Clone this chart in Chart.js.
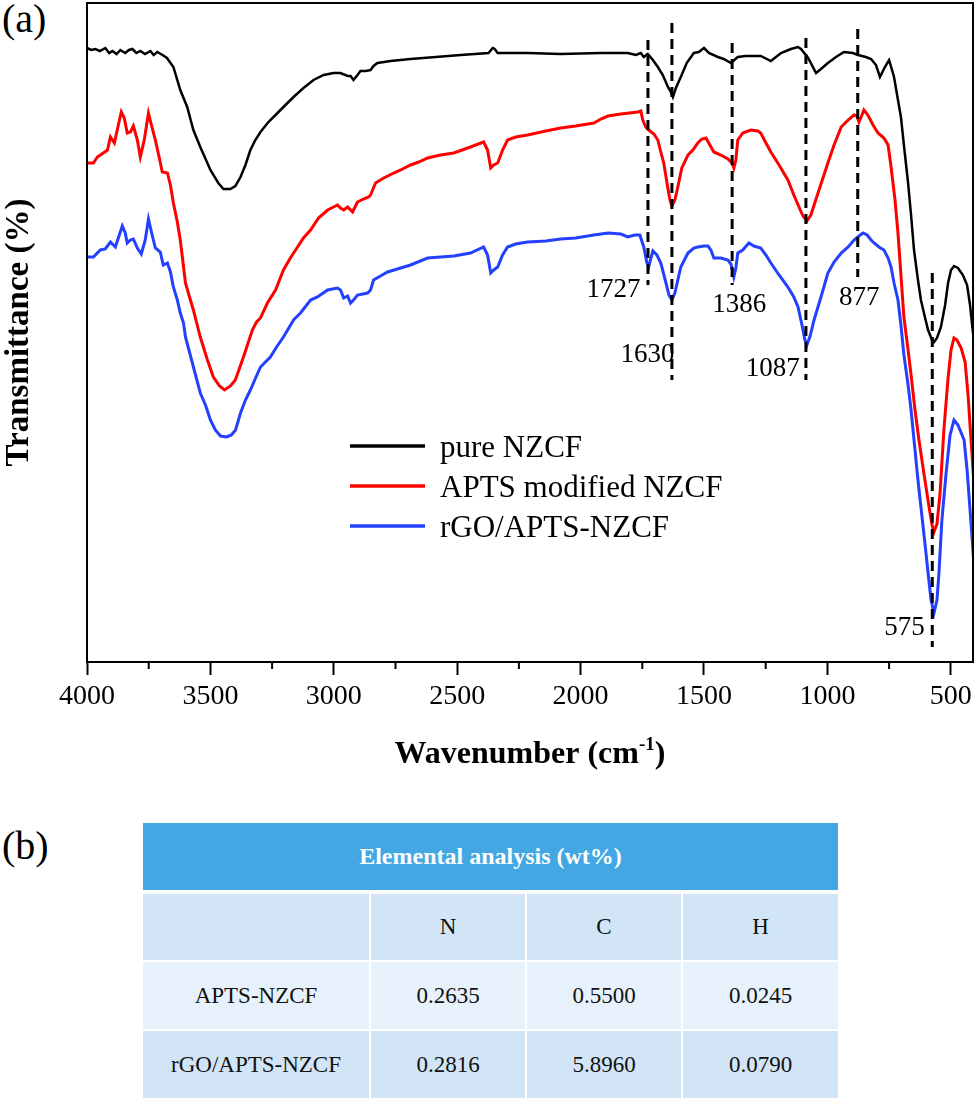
<!DOCTYPE html>
<html lang="en">
<head>
  <meta charset="UTF-8">
  <title>FTIR NZCF</title>
  <style>
    body { margin: 0; background: #fff; width: 980px; height: 1101px; position: relative; overflow: hidden;
           font-family: "Liberation Serif", "Times New Roman", serif; }
    #wrap { position: absolute; left: 0; top: 0; width: 980px; height: 790px; }
    .panel { position: absolute; font-size: 40px; line-height: 1; color: #000; }
    table { position: absolute; left: 141px; top: 821px; border-collapse: separate; border-spacing: 2px; }
    td { padding: 0; text-align: center; font-size: 23px; color: #111; }
    td.head { background: #42a7e3; color: #fff; font-weight: bold; font-size: 24px; height: 67px; border-bottom: 2px solid #fff; }
    tr.r1 td { background: #d1e5f7; height: 66px; }
    tr.r2 td { background: #e7f1fb; height: 67px; }
    tr.r3 td { background: #d1e5f7; height: 67px; }
  </style>
</head>
<body>

  <div class="panel" style="left:2px; top:-1px;">(a)</div>
  <div id="wrap"><canvas id="graphic" width="980" height="790"></canvas></div>

  <div class="panel" style="left:2px; top:826px;">(b)</div>
  <table id="tabla"></table>

  <script src="https://cdn.jsdelivr.net/npm/chart.js"></script>

  <script>
    // --- spectra (wavenumber cm-1, transmittance a.u.) ---
    const pureWn = [4000,3983,3966,3948,3926,3910,3897,3880,3865,3845,3830,3816,3800,3784,3765,3743,3730,3715,3694,3676,3650,3622,3594,3569,3541,3500,3468,3447,3419,3399,3378,3358,3338,3318,3297,3265,3228,3196,3163,3123,3082,3041,3001,2973,2944,2932,2920,2904,2892,2871,2851,2839,2823,2770,2689,2587,2486,2373,2356,2348,2336,2215,2081,1918,1809,1776,1756,1744,1728,1707,1687,1667,1646,1634,1626,1614,1594,1570,1541,1521,1500,1480,1444,1420,1391,1363,1331,1270,1229,1188,1148,1119,1107,1078,1046,1026,998,965,933,897,876,844,823,803,787,767,750,730,714,702,690,673,661,649,633,621,604,592,576,568,556,540,523,511,499,487,471,451,434,422,410,398];
    const pureT  = [614,612,613,611,614,609,611,608,612,609,612,613,609,611,608,611,607,610,607,604,595,572,555,532,515,492,479,473,473,476,485,497,512,522,530,540,549,557,565,574,582,587,589,589,586,586,582,587,591,591,592,596,599,601,603,605,607,609,614,613,609,609,608,609,609,607,609,605,608,602,595,587,575,570,565,574,585,599,609,610,614,609,605,603,599,605,606,606,601,609,613,615,613,604,589,593,599,605,610,609,607,605,603,597,585,595,602,585,562,545,517,479,447,412,382,362,344,332,322,320,324,335,357,379,392,396,394,387,377,357,329,319];

    const aptsWn = [4000,3974,3958,3934,3917,3905,3889,3873,3861,3849,3837,3824,3812,3796,3784,3768,3751,3739,3723,3707,3695,3674,3662,3650,3634,3622,3601,3581,3569,3541,3512,3488,3463,3443,3419,3399,3366,3330,3313,3297,3269,3236,3204,3176,3147,3123,3094,3062,3025,3001,2985,2973,2960,2944,2924,2904,2880,2859,2851,2831,2798,2757,2729,2689,2656,2620,2567,2514,2446,2393,2377,2364,2352,2336,2316,2296,2263,2215,2141,2081,2020,1946,1918,1889,1837,1768,1756,1748,1736,1724,1703,1687,1675,1663,1650,1638,1630,1618,1606,1590,1565,1545,1525,1509,1492,1476,1460,1432,1403,1387,1379,1371,1363,1343,1310,1282,1270,1249,1229,1196,1160,1136,1115,1099,1083,1067,1038,1018,998,973,944,916,892,880,872,860,852,836,815,795,771,754,742,726,714,702,690,673,661,645,629,608,588,576,568,556,544,528,511,499,487,475,458,442,430,418,406,400];
    const aptsT  = [499,499,505,509,512,525,519,537,550,544,529,530,536,522,505,522,549,537,522,504,490,489,477,459,440,422,379,362,352,325,302,285,276,272,276,282,305,332,340,344,359,372,392,404,415,424,432,444,452,455,457,454,452,455,450,460,463,465,467,479,484,489,492,497,500,504,507,509,515,520,512,494,497,499,512,522,525,527,531,534,536,539,543,546,548,550,551,542,535,532,528,522,510,499,479,462,456,462,475,494,507,512,519,523,524,517,510,507,503,499,494,502,522,529,532,531,529,519,510,497,482,467,455,446,441,447,469,484,499,517,535,542,547,546,540,547,552,547,537,529,524,517,495,462,429,387,345,312,287,252,222,187,155,137,130,138,167,232,284,312,324,322,314,300,267,222,177,162];

    const rgoWn = [4000,3974,3946,3926,3905,3885,3869,3857,3845,3837,3824,3812,3796,3780,3764,3751,3739,3723,3703,3691,3674,3662,3650,3634,3622,3609,3601,3573,3541,3520,3500,3480,3459,3435,3415,3398,3378,3358,3338,3317,3297,3277,3257,3232,3204,3163,3135,3094,3066,3025,2985,2973,2960,2944,2932,2920,2904,2863,2851,2839,2811,2782,2729,2689,2620,2567,2514,2446,2393,2377,2364,2352,2336,2316,2296,2263,2215,2141,2081,2020,1946,1889,1837,1809,1780,1760,1744,1732,1724,1715,1707,1691,1675,1654,1642,1630,1618,1606,1594,1565,1541,1525,1500,1484,1472,1460,1432,1403,1391,1379,1371,1363,1343,1318,1298,1270,1249,1229,1196,1160,1136,1119,1103,1091,1083,1070,1054,1026,998,973,944,916,892,872,856,839,823,811,791,771,754,742,730,714,702,690,673,661,649,633,621,604,592,580,568,556,548,536,519,503,487,471,446,434,418,406,400];
    const rgoT  = [405,405,412,413,420,415,427,436,429,419,422,423,414,408,422,443,430,414,410,397,399,390,375,362,349,339,325,299,269,257,242,232,226,225,227,232,249,262,272,284,295,300,305,315,325,342,349,362,365,372,374,372,364,366,359,362,367,369,372,382,386,390,394,397,404,405,406,409,415,407,389,392,395,407,415,418,420,421,423,424,427,429,428,425,427,427,415,400,395,404,411,407,399,379,367,362,369,382,395,409,414,415,416,416,412,404,404,402,398,385,394,409,412,419,416,414,407,399,387,375,365,355,337,322,317,326,342,365,389,400,409,415,422,426,429,427,422,419,415,412,404,395,379,362,337,307,277,252,222,182,155,117,89,62,49,62,89,142,189,227,242,237,222,192,139,97,75];

    const seriesNames = ["pure NZCF", "APTS modified NZCF", "rGO/APTS-NZCF"];

    // axis ticks
    const xTickValues = [4000, 3500, 3000, 2500, 2000, 1500, 1000, 500];
    const xMinorTicks = [3750, 3250, 2750, 2250, 1750, 1250, 750];

    // marked bands
    const peakWn = [1727, 1630, 1386, 1087, 877, 575];

    // table (b)
    const tableTitle = "Elemental analysis (wt%)";
    const elements = ["N", "C", "H"];
    const samples = ["APTS-NZCF", "rGO/APTS-NZCF"];
    const wtAPTS = ["0.2635", "0.5500", "0.0245"];
    const wtRGO  = ["0.2816", "5.8960", "0.0790"];

    // where dashes and numbers sit (data units)
    const peakMarks = [
      { top: 622, bottom: 377, lx: 1757, ly: 365, align: "right" },
      { top: 639, bottom: 282, lx: 1620, ly: 300, align: "right" },
      { top: 619, bottom: 377, lx: 1357, ly: 350, align: "center" },
      { top: 624, bottom: 282, lx: 1112, ly: 286, align: "right" },
      { top: 633, bottom: 385, lx: 871,  ly: 357, align: "center" },
      { top: 389, bottom: 15,  lx: 606,  ly: 27,  align: "right" }
    ];

    const toXY = (wn, t) => wn.map((w, i) => ({ x: w, y: t[i] }));
    const serif = "Liberation Serif";
    Chart.defaults.font.family = serif;

    const decor = {
      id: "decor",
      afterDatasetsDraw(chart) {
        const { ctx, chartArea: a, scales: { x, y } } = chart;
        ctx.save();

        // dashed guide lines
        ctx.strokeStyle = "#000";
        ctx.lineWidth = 3;
        ctx.setLineDash([10, 6]);
        peakWn.forEach((w, i) => {
          const m = peakMarks[i];
          const px = x.getPixelForValue(w);
          ctx.beginPath();
          ctx.moveTo(px, y.getPixelForValue(m.top));
          ctx.lineTo(px, y.getPixelForValue(m.bottom));
          ctx.stroke();
        });
        ctx.setLineDash([]);

        ctx.fillStyle = "#000";
        ctx.font = "27px " + serif;
        ctx.textBaseline = "alphabetic";
        peakWn.forEach((w, i) => {
          const m = peakMarks[i];
          ctx.textAlign = m.align;
          ctx.fillText(String(w), x.getPixelForValue(m.lx), y.getPixelForValue(m.ly));
        });

        // frame
        ctx.lineWidth = 2;
        ctx.strokeRect(a.left, a.top, a.right - a.left, a.bottom - a.top);

        // minor ticks
        xMinorTicks.forEach(v => {
          const px = x.getPixelForValue(v);
          ctx.beginPath();
          ctx.moveTo(px, a.bottom);
          ctx.lineTo(px, a.bottom + 7);
          ctx.stroke();
        });

        // legend
        ctx.textAlign = "left";
        ctx.font = "31px " + serif;
        chart.data.datasets.forEach((ds, i) => {
          const ly = 446 + i * 40;
          ctx.strokeStyle = ds.borderColor;
          ctx.lineWidth = 3.5;
          ctx.beginPath();
          ctx.moveTo(350, ly);
          ctx.lineTo(425, ly);
          ctx.stroke();
          ctx.fillText(ds.label, 440, ly + 10.5);
        });

        // x title with superscript
        const t1 = "Wavenumber (cm", sup = "-1", t2 = ")";
        ctx.font = "bold 32px " + serif;
        const w1 = ctx.measureText(t1).width, w3 = ctx.measureText(t2).width;
        ctx.font = "bold 19px " + serif;
        const w2 = ctx.measureText(sup).width;
        let sx = (a.left + a.right) / 2 - (w1 + w2 + w3) / 2;
        ctx.font = "bold 32px " + serif;
        ctx.fillText(t1, sx, 763);
        ctx.font = "bold 19px " + serif;
        ctx.fillText(sup, sx + w1, 750);
        ctx.font = "bold 32px " + serif;
        ctx.fillText(t2, sx + w1 + w2, 763);

        ctx.restore();
      }
    };

    new Chart(document.getElementById("graphic"), {
      type: "line",
      data: {
        datasets: [
          { label: seriesNames[0], data: toXY(pureWn, pureT), borderColor: "#000000", borderWidth: 2.5 },
          { label: seriesNames[1], data: toXY(aptsWn, aptsT), borderColor: "#ff0000", borderWidth: 3 },
          { label: seriesNames[2], data: toXY(rgoWn, rgoT), borderColor: "#2440ff", borderWidth: 3 }
        ]
      },
      options: {
        responsive: false,
        animation: false,
        devicePixelRatio: 1,
        elements: { point: { radius: 0 }, line: { tension: 0 } },
        layout: { padding: { top: 3, right: 7, bottom: 0, left: 0 } },
        plugins: { legend: { display: false }, tooltip: { enabled: false } },
        scales: {
          x: {
            type: "linear",
            reverse: true,
            min: 410,
            max: 4000,
            afterBuildTicks: scale => { scale.ticks = xTickValues.map(v => ({ value: v })); },
            afterFit: scale => { scale.height = 128; },
            border: { display: false },
            grid: { display: true, drawOnChartArea: false, drawTicks: true, tickLength: 13, tickWidth: 2, tickColor: "#000" },
            ticks: { color: "#000", padding: 5, maxRotation: 0, autoSkip: false,
                     callback: v => String(v),
                     font: { family: serif, size: 28 } }
          },
          y: {
            min: 0,
            max: 659,
            afterFit: scale => { scale.width = 87; },
            border: { display: false },
            grid: { display: false },
            ticks: { display: false },
            title: { display: true, text: "Transmittance (%)", color: "#000", padding: 0,
                     font: { family: serif, size: 33, weight: "bold" } }
          }
        }
      },
      plugins: [decor]
    });

    // table (b)
    const tabla = document.getElementById("tabla");
    const widths = [226, 154, 154, 155];
    let html = '<tr><td class="head" colspan="4">' + tableTitle + '</td></tr>';
    html += '<tr class="r1"><td style="width:' + widths[0] + 'px"></td>' +
      elements.map((e, i) => '<td style="width:' + widths[i + 1] + 'px">' + e + '</td>').join("") + '</tr>';
    html += '<tr class="r2"><td>' + samples[0] + '</td>' + wtAPTS.map(v => '<td>' + v + '</td>').join("") + '</tr>';
    html += '<tr class="r3"><td>' + samples[1] + '</td>' + wtRGO.map(v => '<td>' + v + '</td>').join("") + '</tr>';
    tabla.innerHTML = html;
  </script>
</body>
</html>
